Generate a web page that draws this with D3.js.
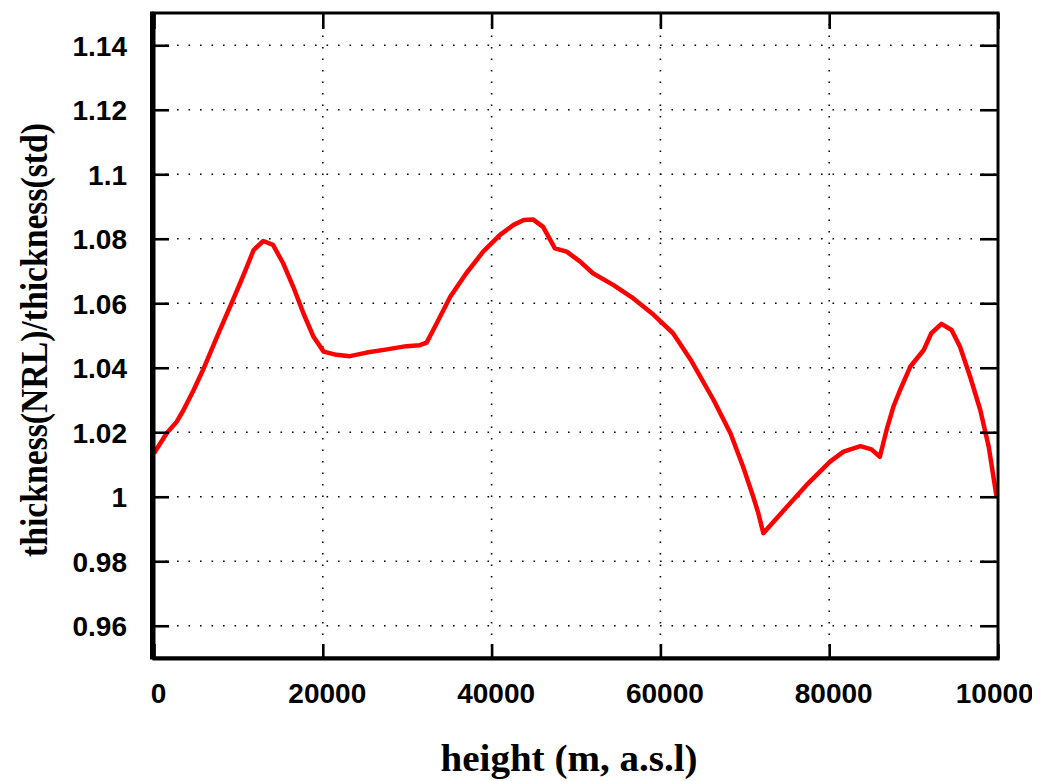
<!doctype html>
<html>
  <head>
    <meta charset="utf-8">
    <title>thickness ratio</title>
    <script type="text/javascript" src="https://d3js.org/d3.v7.min.js"></script>
    <style>
      body { margin: 0; background: #fff; }
    </style>
  </head>
  <body>
    <script>
      // height above sea level (m)
      const heights = [
        0, 1500, 2700, 3500, 4700, 5800, 6800, 7800, 9000, 10200,
        11000, 11800, 12950, 14100, 15300, 16500, 17700, 18900, 20100, 21600,
        23200, 25200, 27600, 29900, 31500, 32300, 33500, 35100, 37000, 39000,
        41000, 42600, 43800, 44900, 46100, 47500, 48900, 50500, 52000, 54400,
        56800, 59200, 61500, 63700, 66300, 68300, 69800, 71000, 71600, 72200,
        75000, 77300, 80100, 81700, 83700, 85000, 86000, 86800, 87600, 88400,
        89600, 91200, 92100, 93300, 94500, 95500, 96700, 97900, 98900, 99800,
        100000
      ];
      // thickness(NRL)/thickness(std)
      const ratios = [
        1.0135, 1.0197, 1.0233, 1.0269, 1.0331, 1.0393, 1.0455, 1.0517, 1.0589, 1.0662,
        1.0713, 1.0765, 1.0793, 1.0781, 1.0724, 1.0651, 1.0569, 1.0496, 1.0450, 1.0440,
        1.0436, 1.0447, 1.0457, 1.0467, 1.0470, 1.0478, 1.0538, 1.0620, 1.0693, 1.0760,
        1.0812, 1.0843, 1.0858, 1.0860, 1.0837, 1.0770, 1.0760, 1.0729, 1.0693, 1.0657,
        1.0615, 1.0564, 1.0507, 1.0420, 1.0300, 1.0197, 1.0093, 1.0000, 0.9949, 0.9887,
        0.9969, 1.0036, 1.0109, 1.0140, 1.0157, 1.0147, 1.0124, 1.0207, 1.0279, 1.0331,
        1.0403, 1.0455, 1.0507, 1.0536, 1.0517, 1.0465, 1.0372, 1.0269, 1.0155, 1.0005,
        1.0000
      ];
      const xTicks = [0, 20000, 40000, 60000, 80000, 100000];
      const yTicks = [0.96, 0.98, 1, 1.02, 1.04, 1.06, 1.08, 1.1, 1.12, 1.14];

      // the source picture is cropped on the right, cutting the last x label
      const width = 1032, height = 781;
      const margin = { left: 154, right: 1032 - 998, top: 13, bottom: 781 - 658 };
      const plotW = width - margin.left - margin.right;
      const plotH = height - margin.top - margin.bottom;

      const svg = d3.select('body').append('svg')
          .attr('width', width)
          .attr('height', height);

      const x = d3.scaleLinear().domain([0, 100000]).range([0, plotW]);
      const y = d3.scaleLinear().domain([0.95, 1.15]).range([plotH, 0]);

      const g = svg.append('g')
          .attr('transform', `translate(${margin.left},${margin.top})`);

      // dotted grid
      const grid = g.append('g')
          .attr('stroke', '#000')
          .attr('stroke-width', 1.6)
          .attr('stroke-dasharray', '1.6 9.9');
      grid.selectAll('.gx')
        .data(xTicks)
        .enter().append('line')
          .attr('x1', d => x(d)).attr('x2', d => x(d))
          .attr('y1', plotH).attr('y2', 0);
      grid.selectAll('.gy')
        .data(yTicks)
        .enter().append('line')
          .attr('x1', 0).attr('x2', plotW)
          .attr('y1', d => y(d)).attr('y2', d => y(d));

      // data line
      const line = d3.line()
          .x((d, i) => x(heights[i]))
          .y(d => y(d));
      g.append('path')
          .datum(ratios)
          .attr('fill', 'none')
          .attr('stroke', '#ff0000')
          .attr('stroke-width', 4.5)
          .attr('stroke-linejoin', 'round')
          .attr('d', line);

      // axes with inward ticks (mirrored on all four sides)
      const tickFont = g => g.selectAll('text')
          .attr('font-family', '"Liberation Sans", Arial, sans-serif')
          .attr('font-weight', 'bold')
          .attr('font-size', 28)
          .attr('fill', '#000');

      const styleAxis = sel => {
        sel.select('.domain').remove();
        sel.selectAll('line').attr('stroke', '#000').attr('stroke-width', 2.6);
      };

      g.append('g')
          .call(d3.axisLeft(y).tickValues(yTicks).tickFormat(d3.format('~g'))
            .tickSizeInner(-15).tickPadding(27))
          .call(styleAxis)
          .call(tickFont)
          .selectAll('text').attr('dy', '0.36em');

      g.append('g')
          .attr('transform', `translate(${plotW},0)`)
          .call(d3.axisRight(y).tickValues(yTicks).tickSizeInner(-18).tickFormat(''))
          .call(styleAxis);

      g.append('g')
          .attr('transform', `translate(0,${plotH})`)
          .call(d3.axisBottom(x).tickValues(xTicks).tickFormat(d3.format('d'))
            .tickSizeInner(-14).tickPadding(31))
          .call(styleAxis)
          .call(tickFont)
          .selectAll('text').attr('dx', 4).attr('dy', 0).attr('y', 45);

      g.append('g')
          .call(d3.axisTop(x).tickValues(xTicks).tickSizeInner(-16).tickFormat(''))
          .call(styleAxis);

      // frame
      g.append('rect')
          .attr('x', 0).attr('y', 0)
          .attr('width', plotW).attr('height', plotH)
          .attr('fill', 'none')
          .attr('stroke', '#000')
          .attr('stroke-width', 3);
      g.append('line')
          .attr('x1', -2).attr('x2', -2)
          .attr('y1', -1.5).attr('y2', plotH + 1.5)
          .attr('stroke', '#000')
          .attr('stroke-width', 4);
      g.append('line')
          .attr('x1', -1.5).attr('x2', plotW + 1.5)
          .attr('y1', plotH + 0.5).attr('y2', plotH + 0.5)
          .attr('stroke', '#000')
          .attr('stroke-width', 4);

      // axis titles
      svg.append('text')
          .attr('x', 569)
          .attr('y', 771)
          .attr('text-anchor', 'middle')
          .attr('font-family', '"Liberation Serif", "Times New Roman", serif')
          .attr('font-weight', 'bold')
          .attr('font-size', 38)
          .attr('textLength', 257)
          .attr('lengthAdjust', 'spacingAndGlyphs')
          .text('height (m, a.s.l)');

      svg.append('text')
          .attr('transform', 'translate(47,340) rotate(-90)')
          .attr('text-anchor', 'middle')
          .attr('font-family', '"Liberation Serif", "Times New Roman", serif')
          .attr('font-weight', 'bold')
          .attr('font-size', 38)
          .attr('textLength', 434)
          .attr('lengthAdjust', 'spacingAndGlyphs')
          .text('thickness(NRL)/thickness(std)');
    </script>
  </body>
</html>
